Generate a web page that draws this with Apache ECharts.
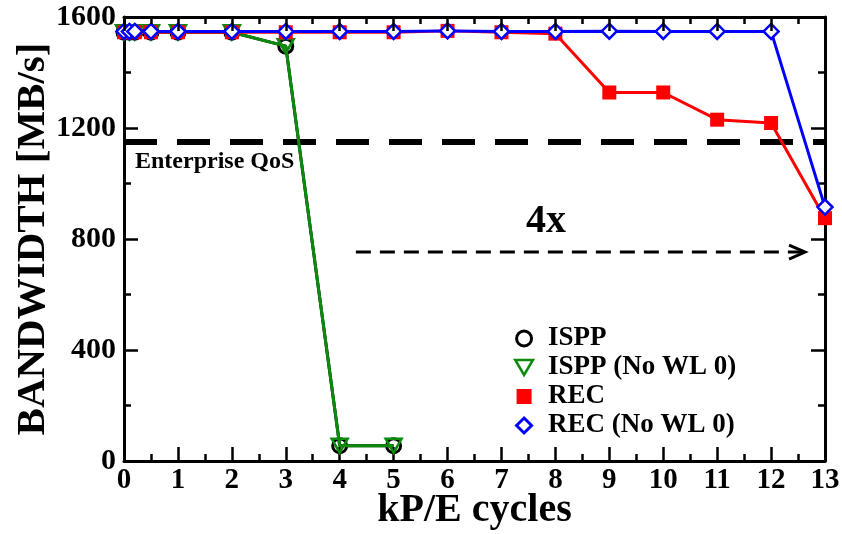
<!DOCTYPE html>
<html>
<head>
<meta charset="utf-8">
<title>Bandwidth vs kP/E cycles</title>
<script src="https://cdn.jsdelivr.net/npm/echarts@6/dist/echarts.min.js"></script>
<style>
  html, body { margin: 0; padding: 0; background: #ffffff; }
  #chart { width: 842px; height: 534px; }
</style>
</head>
<body>
<div id="chart"></div>
<script>
// ---- data -------------------------------------------------------------
// kP/E cycle positions for the ISPP runs (both end after 5k cycles)
const isppCycles = [0, 0.1, 0.2, 0.5, 1, 2, 3, 4, 5];
const isppBandwidth = [1545, 1545, 1545, 1545, 1545, 1545, 1495, 55, 55];
const isppNoWl0Bandwidth = [1545, 1545, 1545, 1545, 1545, 1545, 1495, 55, 55];

// kP/E cycle positions for the REC runs
const recCycles = [0, 0.1, 0.2, 0.5, 1, 2, 3, 4, 5, 6, 7, 8, 9, 10, 11, 12, 13];
const recBandwidth = [1545, 1545, 1545, 1545, 1545, 1545, 1545, 1545, 1545, 1550, 1545, 1540, 1328, 1328, 1230, 1218, 875];
const recNoWl0Bandwidth = [1548, 1548, 1548, 1548, 1548, 1548, 1548, 1548, 1548, 1550, 1548, 1548, 1549, 1548, 1548, 1548, 915];

// enterprise QoS bandwidth floor
const qosLevel = 1150;
const qosSpan = [0, 13];

// "4x" lifetime arrow: from cycle, to cycle, at bandwidth
const lifetimeArrow = [4.3, 12.63, 753];

// axis ranges
const xRange = { min: 0, max: 13, step: 1 };
const yRange = { min: 0, max: 1600, step: 400 };

// ---- helpers ----------------------------------------------------------
const FONT = '"Liberation Serif", "Times New Roman", Times, serif';
const GREEN = '#0b8a0b';
const RED = '#ff0000';
const BLUE = '#0000ff';
const TRI_DOWN = 'path://M0,0 L20,0 L10,17 Z';
const SQUARE = 'path://M0,0 L10,0 L10,10 L0,10 Z';
const DIAMOND = 'path://M5,0 L10,5 L5,10 L0,5 Z';

const zip = (xs, ys) => xs.map((x, i) => [x, ys[i]]);

const tickCommon = {
  axisLine: { show: true, onZero: false, lineStyle: { color: '#000', width: 3 } },
  axisTick: { show: true, inside: true, length: 14, lineStyle: { color: '#000', width: 2.5 } },
  minorTick: { show: true, splitNumber: 2, length: 7, lineStyle: { color: '#000', width: 2.5 } },
  splitLine: { show: false },
  minorSplitLine: { show: false }
};

const xLabelFont = { fontFamily: FONT, fontWeight: 'bold', fontSize: 29, color: '#000' };
const yLabelFont = { fontFamily: FONT, fontWeight: 'bold', fontSize: 30, color: '#000' };
const nameFont = { fontFamily: FONT, fontWeight: 'bold', fontSize: 40, color: '#000' };

const chart = echarts.init(document.getElementById('chart'), null, { renderer: 'canvas' });

const option = {
  backgroundColor: '#ffffff',
  animation: false,
  grid: { left: 124, right: 17, top: 17, bottom: 73, containLabel: false, outerBoundsMode: 'none' },
  xAxis: [
    Object.assign({
      type: 'value', position: 'bottom',
      min: xRange.min, max: xRange.max, interval: xRange.step,
      name: 'kP/E cycles', nameLocation: 'middle', nameGap: 30, nameMoveOverlap: false,
      nameTextStyle: nameFont,
      axisLabel: Object.assign({ margin: 5, formatter: (v) => String(v) }, xLabelFont)
    }, tickCommon),
    Object.assign({
      type: 'value', position: 'top', z: 10,
      min: xRange.min, max: xRange.max, interval: xRange.step,
      axisLabel: { show: false }
    }, tickCommon)
  ],
  yAxis: [
    Object.assign({
      type: 'value', position: 'left',
      min: yRange.min, max: yRange.max, interval: yRange.step,
      name: 'BANDWIDTH [MB/s]', nameLocation: 'middle', nameGap: 70, nameMoveOverlap: false,
      nameTextStyle: Object.assign({}, nameFont, { fontSize: 41 }),
      axisLabel: Object.assign({ margin: 8, formatter: (v) => String(v) }, yLabelFont)
    }, tickCommon),
    Object.assign({
      type: 'value', position: 'right',
      min: yRange.min, max: yRange.max, interval: yRange.step,
      axisLabel: { show: false }
    }, tickCommon)
  ],
  legend: {
    orient: 'vertical',
    left: 509,
    top: 320,
    itemWidth: 38,
    itemHeight: 15,
    itemGap: 2,
    symbolKeepAspect: true,
    textStyle: { fontFamily: FONT, fontWeight: 'bold', fontSize: 27, color: '#000', lineHeight: 26 },
    data: [
      { name: 'ISPP', icon: 'circle', itemStyle: { color: 'transparent', borderColor: '#000', borderWidth: 3 } },
      { name: 'ISPP (No WL 0)', icon: TRI_DOWN, itemStyle: { color: 'transparent', borderColor: GREEN, borderWidth: 2.5 } },
      { name: 'REC', icon: SQUARE, itemStyle: { color: RED, borderWidth: 0 } },
      { name: 'REC (No WL 0)', icon: DIAMOND, itemStyle: { color: '#fff', borderColor: BLUE, borderWidth: 3 } }
    ]
  },
  graphic: [
    {
      type: 'text', left: 135, top: 150, z: 20,
      style: { text: 'Enterprise QoS', fill: '#000', font: 'bold 24px ' + FONT }
    },
    {
      type: 'text', left: 526, top: 202, z: 20,
      style: { text: '4x', fill: '#000', font: 'bold 40px ' + FONT }
    }
  ],
  series: [
    {
      name: 'Enterprise QoS floor',
      type: 'line',
      data: zip(qosSpan, [qosLevel, qosLevel]),
      symbol: 'none',
      silent: true,
      z: 1,
      lineStyle: { color: '#000', width: 6, type: [33, 20] }
    },
    {
      name: 'ISPP',
      type: 'line',
      data: zip(isppCycles, isppBandwidth),
      symbol: 'circle',
      symbolSize: 14,
      clip: false,
      z: 2,
      itemStyle: { color: 'transparent', borderColor: '#000', borderWidth: 3 },
      lineStyle: { color: '#000', width: 3 }
    },
    {
      name: 'ISPP (No WL 0)',
      type: 'line',
      data: zip(isppCycles, isppNoWl0Bandwidth),
      symbol: TRI_DOWN,
      symbolSize: [16, 14],
      clip: false,
      z: 3,
      itemStyle: { color: 'transparent', borderColor: GREEN, borderWidth: 2.5 },
      lineStyle: { color: GREEN, width: 3 }
    },
    {
      name: 'REC',
      type: 'line',
      data: zip(recCycles, recBandwidth),
      symbol: 'rect',
      symbolSize: 14,
      clip: false,
      z: 4,
      itemStyle: { color: RED },
      lineStyle: { color: RED, width: 3 }
    },
    {
      name: 'REC (No WL 0)',
      type: 'line',
      data: zip(recCycles, recNoWl0Bandwidth),
      symbol: 'diamond',
      symbolSize: 15,
      clip: false,
      z: 5,
      itemStyle: { color: '#fff', borderColor: BLUE, borderWidth: 2.5 },
      lineStyle: { color: BLUE, width: 3 }
    },
    {
      name: 'lifetime arrow',
      type: 'custom',
      silent: true,
      z: 6,
      data: [lifetimeArrow],
      encode: { x: [0, 1], y: 2 },
      renderItem: function (params, api) {
        const a = api.coord([api.value(0), api.value(2)]);
        const b = api.coord([api.value(1), api.value(2)]);
        return {
          type: 'group',
          children: [
            {
              type: 'line',
              shape: { x1: a[0], y1: a[1], x2: b[0] - 3, y2: b[1] },
              style: { stroke: '#000', lineWidth: 3, lineDash: [15, 9] }
            },
            {
              type: 'polyline',
              shape: { points: [[b[0] - 16, b[1] - 7], [b[0], b[1]], [b[0] - 16, b[1] + 7]] },
              style: { stroke: '#000', lineWidth: 3, fill: null }
            }
          ]
        };
      }
    }
  ]
};

chart.setOption(option);
</script>
</body>
</html>
